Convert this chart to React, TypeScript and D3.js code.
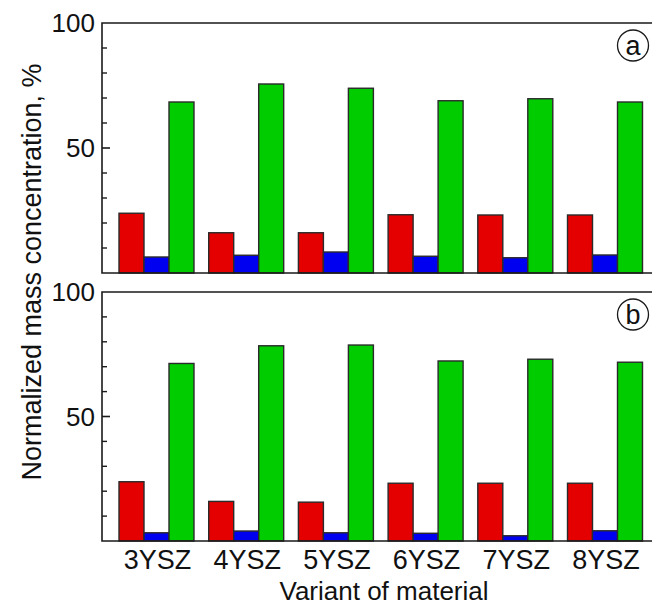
import React, { useEffect } from "react";
import * as d3 from "d3";

// Material variants along the x axis
const categories = ["3YSZ", "4YSZ", "5YSZ", "6YSZ", "7YSZ", "8YSZ"];
const seriesKeys = ["red", "blue", "green"];

// Panel (a)
const redA = [23.9, 16.1, 16.1, 23.3, 23.2, 23.2];
const blueA = [6.4, 7.1, 8.4, 6.7, 6.1, 7.2];
const greenA = [68.4, 75.6, 73.9, 68.9, 69.7, 68.4];

// Panel (b)
const redB = [23.8, 15.9, 15.6, 23.2, 23.2, 23.2];
const blueB = [3.3, 4.0, 3.3, 3.1, 2.1, 4.1];
const greenB = [71.3, 78.4, 78.7, 72.3, 73.0, 71.8];

const yTickLabels = [50, 100];
const minorTicks = [10, 20, 30, 40, 60, 70, 80, 90];

const W = 652;
const H = 605;
const FONT = "'Liberation Sans', Arial, sans-serif";
const COLORS: Record<string, string> = { red: "#e40000", blue: "#0000f0", green: "#00cc00" };

const x = d3
  .scaleBand<string>()
  .domain(categories)
  .range([102, 659.5])
  .paddingInner(0.164)
  .paddingOuter(0.1895);

const xInner = d3.scaleBand<string>().domain(seriesKeys).range([0, x.bandwidth()]).padding(0);

type PanelProps = {
  top: number;
  bottom: number;
  letter: string;
  series: Record<string, number[]>;
};

function Panel({ top, bottom, letter, series }: PanelProps) {
  const y = d3.scaleLinear().domain([0, 100]).range([bottom, top]);
  const [x0, x1] = x.range();
  return (
    <g>
      {/* bars */}
      {categories.map((c, i) =>
        seriesKeys.map((k) => {
          const v = series[k][i];
          return (
            <rect
              key={c + k}
              x={(x(c) as number) + (xInner(k) as number)}
              y={y(v)}
              width={xInner.bandwidth()}
              height={y(0) - y(v)}
              fill={COLORS[k]}
              stroke="#2a2a2a"
              strokeWidth={1.4}
            />
          );
        })
      )}
      {/* frame: top, left and bottom edges */}
      <path
        d={`M${x1},${y(100)}H${x0}V${y(0)}H${x1}`}
        fill="none"
        stroke="#1a1a1a"
        strokeWidth={1.6}
      />
      {/* inward ticks */}
      {minorTicks.map((t) => (
        <line key={t} x1={x0} x2={x0 + 5} y1={y(t)} y2={y(t)} stroke="#1a1a1a" strokeWidth={1.4} />
      ))}
      <line x1={x0} x2={x0 + 8} y1={y(50)} y2={y(50)} stroke="#1a1a1a" strokeWidth={1.6} />
      {yTickLabels.map((t) => (
        <text
          key={t}
          x={x0 - 7}
          y={y(t)}
          dy="0.35em"
          textAnchor="end"
          fontFamily={FONT}
          fontSize={26}
          fill="#111"
        >
          {t}
        </text>
      ))}
      {/* panel letter */}
      <circle cx={633} cy={top + 22.5} r={15.5} fill="none" stroke="#1a1a1a" strokeWidth={1.3} />
      <text
        x={633}
        y={top + 22.5}
        dy="0.35em"
        textAnchor="middle"
        fontFamily={FONT}
        fontSize={27}
        fill="#111"
      >
        {letter}
      </text>
    </g>
  );
}

export default function App() {
  useEffect(() => {
    document.body.style.margin = "0";
  }, []);

  return (
    <svg width={W} height={H} style={{ display: "block", background: "#fff" }}>
      <rect x={0} y={0} width={W} height={H} fill="#fff" />
      <Panel top={23} bottom={273} letter="a" series={{ red: redA, blue: blueA, green: greenA }} />
      <Panel top={292} bottom={541} letter="b" series={{ red: redB, blue: blueB, green: greenB }} />
      {categories.map((c) => (
        <text
          key={c}
          x={(x(c) as number) + x.bandwidth() / 2 + 1}
          y={569}
          textAnchor="middle"
          fontFamily={FONT}
          fontSize={27}
          fill="#111"
        >
          {c}
        </text>
      ))}
      <text x={384} y={600} textAnchor="middle" fontFamily={FONT} fontSize={26} fill="#111">
        Variant of material
      </text>
      <text
        transform="translate(41,272) rotate(-90)"
        textAnchor="middle"
        fontFamily={FONT}
        fontSize={27}
        fill="#111"
      >
        Normalized mass concentration, %
      </text>
    </svg>
  );
}
